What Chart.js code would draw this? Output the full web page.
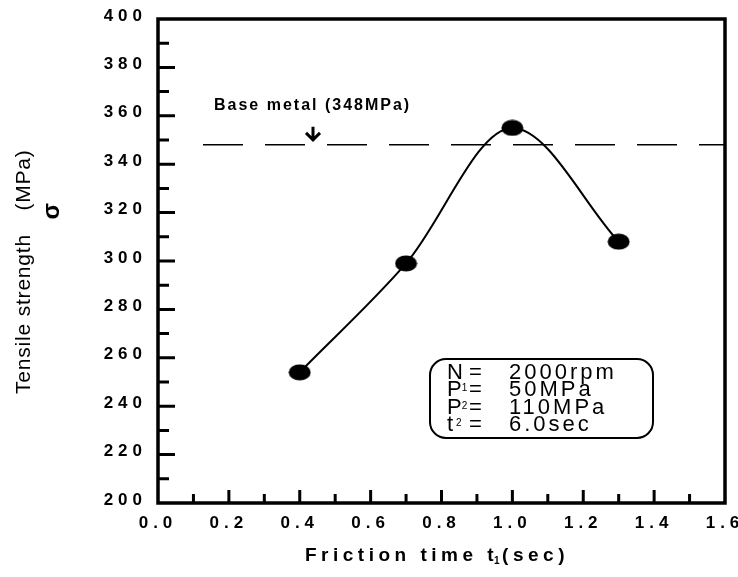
<!DOCTYPE html>
<html>
<head>
<meta charset="utf-8">
<script src="https://cdn.jsdelivr.net/npm/chart.js@4.4.1/dist/chart.umd.min.js"></script>
<style>
  html, body { margin: 0; padding: 0; background: #fff; }
</style>
</head>
<body>
<canvas id="chart" width="738" height="577"></canvas>
<script>
// data
const frictionTimes = [0.4, 0.7, 1.0, 1.3];        // t1 (sec)
const tensileStrength = [254, 299, 355, 308];      // MPa
const baseMetal = 348;                             // MPa
const baseMetalSpan = [0.127, 1.6];                // x range of dashed line
const conditionNames = ['N', 'P', 'P', 't'];
const conditionSubs = ['', '1', '2', '2'];
const conditionValues = ['2000rpm', '50MPa', '110MPa', '6.0sec'];

const FONT = '"Liberation Sans", Arial, Helvetica, sans-serif';

function ellipseDot(w, h) {
  const c = document.createElement('canvas');
  c.width = w;
  c.height = h;
  const g = c.getContext('2d');
  g.fillStyle = '#000';
  g.beginPath();
  g.ellipse(w / 2, h / 2, w / 2 - 0.5, h / 2 - 0.5, 0, 0, Math.PI * 2);
  g.fill();
  return c;
}

const decorations = {
  id: 'decorations',
  beforeDraw(chart) {
    // spaced-out tick lettering like the scan
    chart.ctx.letterSpacing = '5px';
  },
  afterDraw(chart) {
    const ctx = chart.ctx;
    const { left, right, top, bottom } = chart.chartArea;
    const xs = chart.scales.x, ys = chart.scales.y;
    ctx.save();
    ctx.letterSpacing = '0px';
    ctx.strokeStyle = '#000';
    ctx.fillStyle = '#000';

    // frame
    ctx.lineWidth = 3.5;
    ctx.strokeRect(left, top, right - left, bottom - top);

    // inward ticks
    ctx.lineWidth = 3;
    ctx.beginPath();
    for (let v = 210; v < 400; v += 10) {
      const py = ys.getPixelForValue(v);
      const len = v % 20 === 0 ? 17 : 11;
      ctx.moveTo(left, py);
      ctx.lineTo(left + len, py);
    }
    for (let i = 1; i < 16; i++) {
      const px = xs.getPixelForValue(i / 10);
      const len = i % 2 === 0 ? 13 : 9;
      ctx.moveTo(px, bottom);
      ctx.lineTo(px, bottom - len);
    }
    ctx.stroke();

    // base metal label + arrow
    const lineY = ys.getPixelForValue(baseMetal);
    ctx.font = 'bold 16px ' + FONT;
    ctx.letterSpacing = '2px';
    ctx.textBaseline = 'middle';
    ctx.textAlign = 'left';
    ctx.fillText('Base metal (348MPa)', 214, lineY - 39);
    ctx.letterSpacing = '0px';
    const ax = 313;
    ctx.lineWidth = 3;
    ctx.beginPath();
    ctx.moveTo(ax, lineY - 18);
    ctx.lineTo(ax, lineY - 5);
    ctx.moveTo(ax - 7, lineY - 12);
    ctx.lineTo(ax, lineY - 5);
    ctx.lineTo(ax + 7, lineY - 12);
    ctx.stroke();

    // condition box
    ctx.lineWidth = 2;
    ctx.beginPath();
    ctx.roundRect(430, 359, 223, 79, 16);
    ctx.stroke();
    ctx.textBaseline = 'alphabetic';
    for (let i = 0; i < conditionNames.length; i++) {
      const by = 379 + i * 17.3;
      ctx.font = '22px ' + FONT;
      ctx.fillText(conditionNames[i], 447, by);
      if (conditionSubs[i]) {
        const w = ctx.measureText(conditionNames[i]).width;
        ctx.font = '10px ' + FONT;
        ctx.fillText(conditionSubs[i], 447 + w + (conditionNames[i] === 't' ? 3 : 0), by - 5);
        ctx.font = '22px ' + FONT;
      }
      ctx.fillText('=', 469, by);
      ctx.letterSpacing = '3px';
      ctx.fillText(conditionValues[i], 509, by);
      ctx.letterSpacing = '0px';
    }

    // y axis title
    ctx.save();
    ctx.translate(24, 0);
    ctx.rotate(-Math.PI / 2);
    ctx.font = '21px ' + FONT;
    ctx.textBaseline = 'middle';
    ctx.textAlign = 'center';
    ctx.letterSpacing = '0.8px';
    ctx.fillText('Tensile strength', -314, 0);
    ctx.fillText('(MPa)', -180, 0);
    ctx.font = 'bold 24px ' + FONT;
    ctx.fillText('\u03c3', -211, 28);
    ctx.restore();

    // x axis title
    ctx.font = 'bold 19px ' + FONT;
    ctx.letterSpacing = '4.5px';
    ctx.textBaseline = 'middle';
    ctx.textAlign = 'left';
    let tx = 305;
    const ty = 556;
    ctx.fillText('Friction time t', tx, ty);
    tx += ctx.measureText('Friction time t').width - 4;
    ctx.font = 'bold 10px ' + FONT;
    ctx.letterSpacing = '0px';
    ctx.fillText('1', tx, ty + 5);
    tx += 8;
    ctx.font = 'bold 19px ' + FONT;
    ctx.letterSpacing = '4.5px';
    ctx.fillText('(sec)', tx, ty);

    ctx.restore();
  }
};

new Chart(document.getElementById('chart'), {
  type: 'scatter',
  data: {
    datasets: [
      {
        label: 'Tensile strength',
        data: frictionTimes.map((t, i) => ({ x: t, y: tensileStrength[i] })),
        showLine: true,
        borderColor: '#000',
        borderWidth: 2,
        cubicInterpolationMode: 'monotone',
        pointStyle: ellipseDot(23, 17),
        pointRadius: 9,
        pointHoverRadius: 9
      },
      {
        label: 'Base metal',
        data: baseMetalSpan.map(t => ({ x: t, y: baseMetal })),
        showLine: true,
        borderColor: '#000',
        borderWidth: 1.5,
        borderDash: [40, 22],
        pointRadius: 0
      }
    ]
  },
  options: {
    responsive: false,
    animation: false,
    events: [],
    layout: { padding: { top: 19, right: 13, left: 0, bottom: 0 } },
    plugins: {
      legend: { display: false },
      tooltip: { enabled: false }
    },
    scales: {
      x: {
        type: 'linear',
        min: 0,
        max: 1.6,
        afterFit: s => { s.height = 74; s.paddingLeft = 0; s.paddingRight = 0; },
        grid: { display: false, drawTicks: false },
        border: { display: false },
        ticks: {
          stepSize: 0.2,
          padding: 10,
          color: '#000',
          font: { family: FONT, size: 17, weight: 'bold' },
          callback: v => v.toFixed(1)
        }
      },
      y: {
        min: 200,
        max: 400,
        afterFit: s => { s.width = 158; s.paddingTop = 0; s.paddingBottom = 0; },
        grid: { display: false, drawTicks: false },
        border: { display: false },
        ticks: {
          stepSize: 20,
          padding: 11,
          labelOffset: -3,
          color: '#000',
          font: { family: FONT, size: 17, weight: 'bold' }
        }
      }
    }
  },
  plugins: [decorations]
});
</script>
</body>
</html>
